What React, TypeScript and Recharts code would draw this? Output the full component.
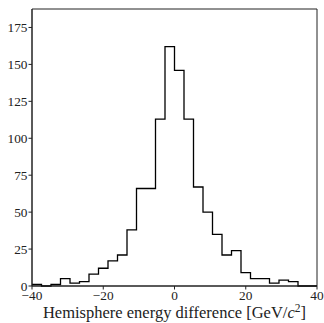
import { LineChart, Line, XAxis, YAxis, ReferenceArea } from "recharts";

// histogram counts, 30 equal bins from -40 to 40
const binCounts = [1, 0, 1, 5, 2, 3, 8, 12, 17, 21, 38, 66, 66, 113, 162, 146, 113, 67, 50, 35, 21, 24, 9, 5, 5, 2, 4, 3, 0, 0];
const binStart = -40;
const binEnd = 40;
const yMax = 187.5;
const xTicks = [-40, -20, 0, 20, 40];
const yTicks = [0, 25, 50, 75, 100, 125, 150, 175];

const binWidth = (binEnd - binStart) / binCounts.length;
const data = [
  ...binCounts.map((count, i) => ({ x: binStart + i * binWidth, count })),
  { x: binEnd, count: binCounts[binCounts.length - 1] },
];

const FONT = "'Liberation Serif', 'Times New Roman', serif";
const minus = (v: number) => String(v).replace("-", "\u2212");
const tickStyle = { fill: "#222", stroke: "none", fontSize: 13.3, fontFamily: FONT };

const AxisTitle = (props: any) => {
  const { viewBox } = props;
  const cx = viewBox.x + viewBox.width / 2;
  return (
    <text x={cx} y={318} textAnchor="middle" fontFamily={FONT} fontSize={16.5} fill="#222">
      Hemisphere energy difference [GeV/<tspan fontStyle="italic">c</tspan>
      <tspan dy={-6} fontSize={11.5}>2</tspan>
      <tspan dy={6}>]</tspan>
    </text>
  );
};

const App = () => {
  return (
    <div style={{ width: 324, height: 323, background: "#fff" }}>
      <style>{"body{margin:0}"}</style>
      <LineChart width={324} height={323} data={data} margin={{ top: 9, right: 7, bottom: 0, left: 0 }}>
        <XAxis
          dataKey="x"
          type="number"
          domain={[binStart, binEnd]}
          ticks={xTicks}
          tickFormatter={minus}
          height={37}
          tickSize={3.5}
          tickMargin={1}
          stroke="#222"
          tick={tickStyle}
          label={{ content: <AxisTitle /> }}
        />
        <YAxis
          type="number"
          domain={[0, yMax]}
          ticks={yTicks}
          width={32}
          tickSize={3.5}
          tickMargin={1}
          stroke="#222"
          tick={tickStyle}
        />
        {/* frame on all four sides, like matplotlib spines */}
        <ReferenceArea x1={binStart} x2={binEnd} y1={0} y2={yMax} fill="none" stroke="#222" strokeWidth={1} />
        <Line type="stepAfter" dataKey="count" stroke="#000" strokeWidth={1.3} dot={false} isAnimationActive={false} />
      </LineChart>
    </div>
  );
};

export default App;
